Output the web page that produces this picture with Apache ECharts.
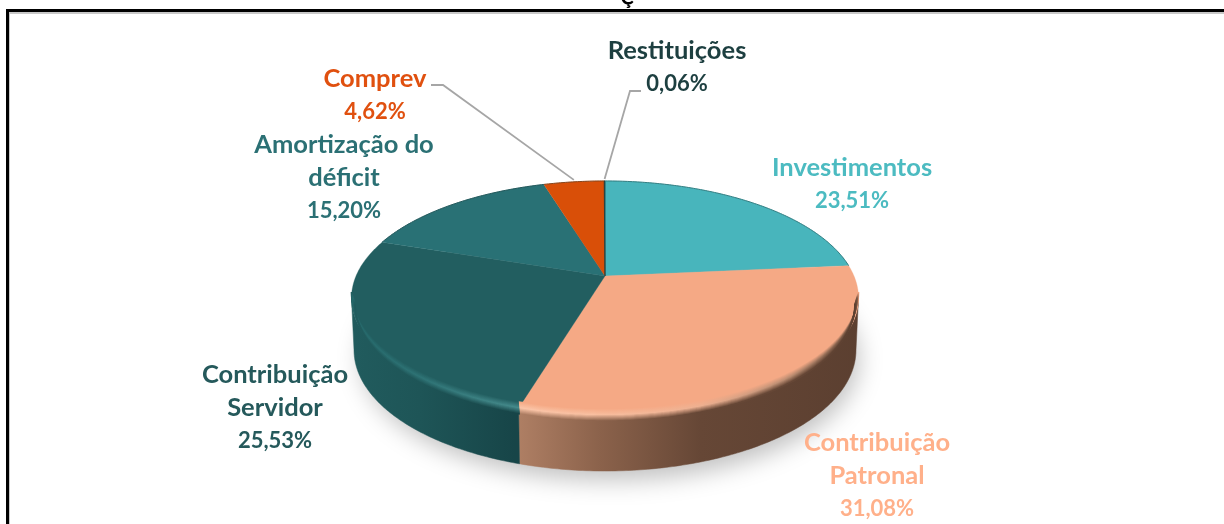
<!DOCTYPE html>
<html><head><meta charset="utf-8">
<style>html,body{margin:0;padding:0;background:#fff}#c{width:1224px;height:524px}</style>
<script src="https://cdn.jsdelivr.net/npm/echarts@6/dist/echarts.min.js"></script>
</head><body><div id="c"></div>
<script>
const categories = ['Investimentos','Contribuição\nPatronal','Contribuição\nServidor','Amortização do\ndéficit','Comprev','Restituições'];
const shares = [23.51,31.08,25.53,15.20,4.62,0.06];

const topColors = ['#48B5BC','#F5A985','#225E60','#297175','#D94F08','#1D3F40'];
const labelColors = ['#4CBBC1','#FFB08A','#25595B','#2B7074','#E0500F','#1D3F40'];
const labelPos = [[852,184],[877,476],[275,408],[344,178],[375,95],[677,67]];
const leaderStart = {4:[[431,85],[443,85]],5:[[641,91],[630,91]]};

// perspective view of the disc
const CX=605, APEX=276, K=0.188, A=61, R=249, DEPTH=51, EY=5, BSCALE=0.99;
const total = shares.reduce((a,b)=>a+b,0);
const starts=[]; shares.reduce((s,v,i)=>{starts[i]=s;return s+v;},0);
const ang = p => p/total*2*Math.PI;
function proj(t,dy,sx,ey){
  const X=Math.sin(t),Y=-Math.cos(t),d=1-K*Y;
  return [CX+(sx||1)*R*X/d,(APEX+A*Y)/d+(dy||0)+(ey||0)*Y];
}
function arc(a,b,dy,sx,ey){
  const n=Math.max(2,Math.ceil(Math.abs(b-a)/0.012)),o=[];
  for(let i=0;i<=n;i++)o.push(proj(a+(b-a)*i/n,dy,sx,ey));
  return o;
}
function hex(c){return [1,3,5].map(i=>parseInt(c.substr(i,2),16));}
function mix(a,b,t){const A1=hex(a),B1=hex(b);return '#'+A1.map((v,i)=>Math.round(v+(B1[i]-v)*t).toString(16).padStart(2,'0')).join('');}
const G=echarts.graphic.LinearGradient;
const X0=345,X1=865,pos=x=>(x-X0)/(X1-X0);
function hgrad(st){return new G(X0,0,X1,0,st.map(s=>({offset:pos(s[0]),color:s[1]})),true);}

const sideStops={
 1:[[515,'#B08065'],[600,'#8B624B'],[700,'#664736'],[865,'#5B3F30']],
 2:[[345,'#215C5E'],[420,'#1E5557'],[515,'#174548']]
};
const hiStops={
 1:[[515,'#FBC6A9'],[600,'#F8BE9F'],[700,'#EDB091'],[790,'#B98B70'],[865,'#6E4E3C']],
 2:[[345,'#24686A'],[420,'#2E7375'],[515,'#458A8B']]
};
const FRONT_A=100.8*Math.PI/180, FRONT_B=259.2*Math.PI/180;

function renderShadow(){
  return {type:'polygon',shape:{points:arc(0,2*Math.PI,DEPTH-3,BSCALE*0.99,EY)},
    style:{fill:'#bbb',shadowColor:'rgba(0,0,0,0.25)',shadowBlur:24,shadowOffsetX:5,shadowOffsetY:12}};
}
function renderSide(p){
  const i=p.dataIndex,stops=sideStops[i]; if(!stops) return null;
  const a=Math.max(ang(starts[i]),FRONT_A),b=Math.min(ang(starts[i]+shares[i]),FRONT_B);
  const pts=arc(a,b,0).concat(arc(a,b,DEPTH,BSCALE,EY).reverse());
  return {type:'polygon',shape:{points:pts},style:{fill:hgrad(stops),stroke:hgrad(stops),lineWidth:0.5}};
}
function renderTop(p,api){
  const i=p.dataIndex,s=ang(starts[i]),e=ang(starts[i]+api.value(0));
  const pts=[[CX,APEX]].concat(arc(s,e,0));
  return {type:'polygon',shape:{points:pts},style:{fill:topColors[i],stroke:topColors[i],lineWidth:i===5?0.8:0.3}};
}
function renderBevel(p){
  const i=p.dataIndex; const ch=[];
  const s=ang(starts[i]),e=ang(starts[i]+shares[i]);
  if(sideStops[i]){
    const a=Math.max(s,FRONT_A),b=Math.min(e,FRONT_B);
    const N=13;
    for(let k=0;k<N;k++){
      const off=-6+k,t=k/(N-1);
      const hs=hiStops[i],ss=sideStops[i];
      const st=hs.map(h=>{
        const x=h[0];
        let sc=ss[0][1];
        for(let q=0;q<ss.length;q++){ if(ss[q][0]<=x) sc=ss[q][1]; }
        const c=t<0.5?mix(topColors[i],h[1],t/0.5):mix(h[1],sc,(t-0.5)/0.5);
        return [x,c];
      });
      ch.push({type:'polyline',shape:{points:arc(a,b,off,1-0.0012*k)},style:{stroke:hgrad(st),lineWidth:1.6,fill:null}});
    }
  } else {
    ch.push({type:'polyline',shape:{points:arc(s,e,0)},style:{stroke:mix(topColors[i],'#1b3a3c',0.45),lineWidth:1,fill:null}});
  }
  return {type:'group',children:ch};
}
function renderLeader(p){
  const i=p.dataIndex,l=leaderStart[i]; if(!l) return null;
  const m=proj(ang(starts[i]+shares[i]/2),-2);
  return {type:'polyline',shape:{points:l.concat([m])},style:{stroke:'#A6A6A6',lineWidth:1.8,fill:null}};
}
const FONT='Lato, "Open Sans", sans-serif';
function renderLabel(p,api){
  const i=p.dataIndex,v=api.value(0).toFixed(2).replace('.',',')+'%';
  const names=categories[i].split('\n').map(s=>'{n|'+s+'}').join('\n');
  return {type:'text',x:labelPos[i][0],y:labelPos[i][1],style:{
    text:names+'\n{v|'+v+'}',align:'center',verticalAlign:'middle',
    rich:{
      n:{fill:labelColors[i],fontFamily:FONT,fontWeight:'bold',fontSize:25.5,lineHeight:33,align:'center'},
      v:{fill:labelColors[i],fontFamily:FONT,fontWeight:'bold',fontSize:22,lineHeight:33,align:'center'}
    }}};
}
const data=shares.map((v,i)=>({name:categories[i],value:[v]}));
const mk=(fn,z,d)=>({type:'custom',coordinateSystem:'none',renderItem:fn,data:d||data,z,silent:true,animation:false,clip:false});

const chart=echarts.init(document.getElementById('c'),null,{renderer:'canvas'});
chart.setOption({
  animation:false,backgroundColor:'#fff',
  graphic:[
    {type:'polyline',z:1,shape:{points:[[9,524],[9,13],[1224,13]]},style:{stroke:'#C8C8C8',lineWidth:2,fill:null}},
    {type:'polyline',z:2,shape:{points:[[7.5,524],[7.5,10.5],[1224,10.5]]},style:{stroke:'#000',lineWidth:3,fill:null}},
    {type:'text',z:3,x:627,y:-12,style:{text:'Ç',fill:'#000',font:'bold 20px Lato, sans-serif',align:'center',verticalAlign:'top'}}
  ],
  series:[mk(renderShadow,2,[data[0]]),mk(renderSide,3),mk(renderTop,4),mk(renderBevel,5),mk(renderLeader,6),mk(renderLabel,7)]
});
</script></body></html>
